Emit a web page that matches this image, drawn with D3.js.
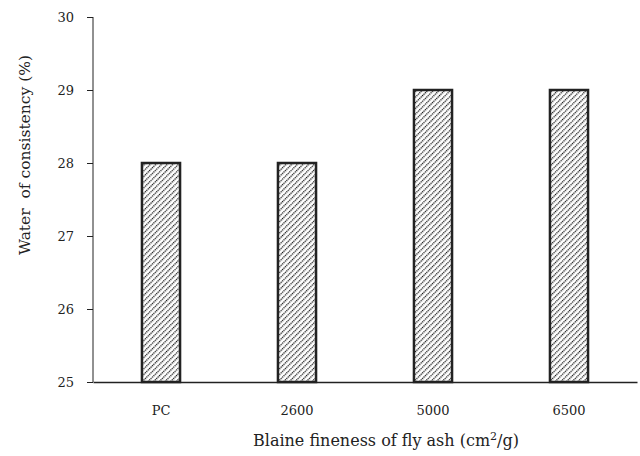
<!DOCTYPE html>
<html>
<head>
<meta charset="utf-8">
<script src="https://cdn.jsdelivr.net/npm/d3@7"></script>
<style>
  body { margin: 0; background: #fff; }
  text { font-family: "DejaVu Serif", serif; fill: #222; }
</style>
</head>
<body>
<script>
// Chart data
var categories = ["PC", "2600", "5000", "6500"]
var waterValues = [28, 28, 29, 29]
var yTicks = [25, 26, 27, 28, 29, 30]

// Sizes
var svgW = 640
var svgH = 456
var marginLeft = 93
var marginRight = 3
var marginTop = 17
var marginBottom = 74
var dataW = svgW - marginLeft - marginRight
var dataH = svgH - marginTop - marginBottom

var svg = d3.select("body")
            .append("svg")
            .attr("width", svgW)
            .attr("height", svgH)

// Hatch pattern for the bars
var defs = svg.append("defs")
var pattern = defs.append("pattern")
                  .attr("id", "hatch")
                  .attr("patternUnits", "userSpaceOnUse")
                  .attr("width", 4)
                  .attr("height", 4)
                  .attr("patternTransform", "rotate(45)")
pattern.append("rect")
       .attr("width", 4).attr("height", 4).attr("fill", "#fff")
pattern.append("line")
       .attr("x1", 0).attr("y1", 0).attr("x2", 0).attr("y2", 4)
       .attr("stroke", "#111")
       .attr("stroke-width", 2.6)
       .attr("stroke-dasharray", "1.3,0.7")

// Scales
var xScale = d3.scaleBand()
               .domain(categories)
               .range([0, dataW])
               .paddingInner(0.72)
               .paddingOuter(0.36)

var yScale = d3.scaleLinear()
               .domain([25, 30])
               .range([dataH, 0])

var plot = svg.append("g")
              .attr("transform", "translate(" + marginLeft + "," + marginTop + ")")

// Bars
plot.selectAll("rect.bar")
    .data(waterValues)
    .enter()
    .append("rect")
      .attr("class", "bar")
      .attr("x", function(d, i) { return xScale(categories[i]) })
      .attr("y", function(d) { return yScale(d) })
      .attr("width", xScale.bandwidth())
      .attr("height", function(d) { return dataH - yScale(d) })
      .attr("fill", "url(#hatch)")
      .attr("stroke", "#222")
      .attr("stroke-width", 2.5)

// Y axis
var yAxis = d3.axisLeft(yScale).tickValues(yTicks).tickFormat(d3.format("d")).tickSize(6).tickPadding(13)
var yG = plot.append("g").call(yAxis)
yG.select(".domain").attr("stroke", "#222").attr("d", "M0," + dataH + "V0")
yG.selectAll(".tick line").attr("stroke", "#222")
yG.selectAll(".tick text").style("font-size", "13px").attr("fill", "#222")

// X axis
var xAxis = d3.axisBottom(xScale).tickSize(0).tickPadding(24)
var xG = plot.append("g")
             .attr("transform", "translate(0," + dataH + ")")
             .call(xAxis)
xG.select(".domain").attr("stroke", "#222").attr("stroke-width", 1.5)
xG.selectAll(".tick text").style("font-size", "13px").attr("fill", "#222")

// Axis titles
var xTitle = svg.append("text")
   .attr("x", 386)
   .attr("y", 446)
   .style("text-anchor", "middle")
   .style("font-size", "16px")
xTitle.append("tspan").text("Blaine fineness of fly ash (cm")
xTitle.append("tspan").attr("dy", -6).style("font-size", "11px").text("2")
xTitle.append("tspan").attr("dy", 6).text("/g)")

svg.append("text")
   .attr("transform", "translate(30," + 155 + ") rotate(-90)")
   .style("text-anchor", "middle")
   .style("font-size", "15.5px")
   .style("white-space", "pre")
   .text("Water  of consistency (%)")
</script>
</body>
</html>
